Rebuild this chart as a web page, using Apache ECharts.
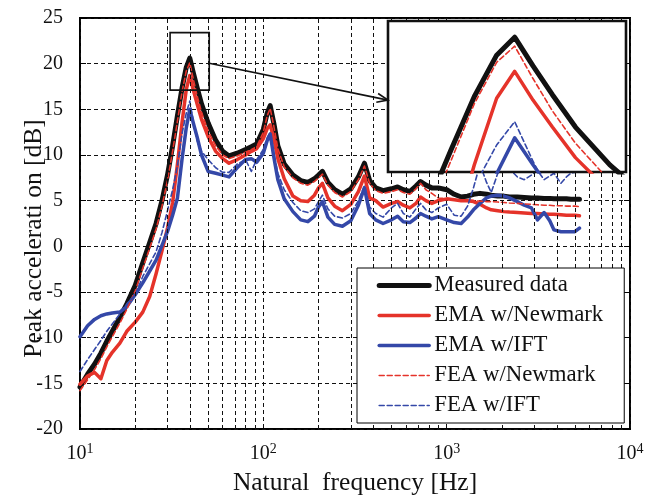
<!DOCTYPE html>
<html>
<head>
<meta charset="utf-8">
<script src="https://cdn.jsdelivr.net/npm/echarts@6/dist/echarts.min.js"></script>
<style>html,body{margin:0;padding:0;background:#fff}#chart{width:646px;height:498px}</style>
</head>
<body>
<div id="chart"></div>
<script>
// Frequency points shared by all response curves [Hz]
const freqHz = [10, 11, 12, 13, 14, 15, 16.5, 18, 20, 22,
  24, 26, 28, 30, 32, 34, 36, 38, 39.7, 41.5,
  43.5, 46, 50, 55, 60, 65, 72, 80, 86, 92,
  100, 105, 109, 114, 120, 130, 145, 160, 175, 190,
  200, 210, 225, 245, 270, 300, 330, 356, 380, 410,
  450, 500, 540, 580, 630, 680, 720, 770, 830, 900,
  1000, 1100, 1200, 1300, 1400, 1520, 1650, 1750, 1900, 2050,
  2200, 2430, 2650, 2900, 3130, 3400, 3650, 3850, 4200, 4500,
  4760, 5000, 5300];

// Peak acceleration [dB]
const measuredData = [-15.4, -14.0, -12.9, -11.7, -10.4, -9.3, -7.8, -6.3, -4.3, -1.8,
  0.4, 2.5, 5.0, 7.8, 11.0, 14.3, 17.3, 19.6, 20.6, 19.0,
  17.4, 15.6, 13.5, 11.6, 10.4, 9.9, 10.2, 10.6, 10.9, 11.2,
  12.8, 14.6, 15.4, 13.5, 11.0, 9.0, 7.8, 7.2, 7.0, 7.4,
  7.8, 8.2, 7.0, 6.2, 5.7, 6.3, 7.6, 9.1, 7.2, 6.4,
  6.1, 6.3, 6.5, 6.2, 6.0, 6.6, 7.1, 6.7, 6.4, 6.4,
  6.2, 5.7, 5.4, 5.5, 5.7, 5.8, 5.7, 5.6, 5.5, 5.5,
  5.4, 5.4, 5.35, 5.3, 5.3, 5.25, 5.25, 5.2, 5.2, 5.2,
  5.15, 5.15, 5.15];

const emaNewmark = [-15.1, -14.2, -13.8, -14.5, -12.5, -11.6, -10.6, -9.3, -8.3, -7.2,
  -5.5, -3.0, -0.5, 2.0, 4.8, 9.0, 13.5, 17.2, 18.7, 17.1,
  15.6, 13.9, 12.0, 10.4, 9.6, 9.1, 9.5, 10.0, 10.4, 10.7,
  11.8, 12.9, 13.3, 11.8, 9.6, 7.4, 5.5, 5.0, 4.9, 5.6,
  6.4, 6.9, 5.3, 4.4, 3.9, 4.6, 6.0, 7.7, 5.3, 5.0,
  4.3, 4.7, 4.9, 4.5, 4.2, 4.7, 5.4, 5.0, 4.7, 5.0,
  5.2, 5.1, 5.0, 5.0, 4.9, 4.6, 4.2, 4.0, 3.9, 3.8,
  3.75, 3.7, 3.65, 3.6, 3.6, 3.55, 3.5, 3.5, 3.45, 3.4,
  3.4, 3.4, 3.35];

const emaIft = [-9.9, -8.7, -8.0, -7.6, -7.4, -7.3, -7.2, -6.6, -5.3, -4.0,
  -2.7, -1.5, 0.1, 1.6, 3.4, 5.3, 9.5, 13.0, 15.0, 13.5,
  12.0, 10.0, 8.2, 8.0, 7.8, 7.6, 8.6, 9.5, 9.6, 9.2,
  10.2, 11.6, 12.3, 9.8, 7.3, 5.2, 3.8, 2.9, 2.7, 3.3,
  4.3, 4.9, 3.2, 2.4, 2.2, 2.8, 4.5, 6.4, 3.6, 2.9,
  2.5, 2.9, 3.3, 2.7, 2.6, 3.1, 3.6, 3.3, 3.0, 3.25,
  2.9, 2.6, 2.5, 3.2, 4.0, 4.7, 5.3, 5.5, 5.6, 5.5,
  5.3, 4.9, 4.5, 4.2, 2.9, 3.7, 2.8, 1.8, 1.6, 1.6,
  1.6, 1.6, 2.0];

const feaNewmark = [-15.8, -14.6, -13.5, -12.3, -11.0, -9.9, -8.4, -6.9, -4.9, -2.4,
  -0.2, 1.9, 4.4, 7.2, 10.4, 13.7, 16.9, 19.2, 20.1, 18.3,
  16.5, 14.7, 12.6, 11.0, 10.0, 9.6, 9.9, 10.3, 10.6, 10.9,
  12.5, 14.3, 15.1, 13.2, 10.7, 8.7, 7.5, 6.9, 6.7, 7.1,
  7.5, 7.9, 6.7, 5.9, 5.4, 6.0, 7.3, 8.8, 6.9, 6.1,
  5.8, 6.0, 6.2, 5.9, 5.7, 6.3, 6.9, 6.2, 5.8, 5.3,
  5.2, 5.1, 5.1, 5.05, 5.0, 4.95, 4.9, 4.9, 4.85, 4.8,
  4.75, 4.7, 4.65, 4.6, 4.55, 4.5, 4.5, 4.45, 4.45, 4.4,
  4.4, 4.4, 4.35];

const feaIft = [-13.7, -12.4, -11.3, -10.3, -9.3, -8.5, -7.4, -6.3, -5.3, -3.3,
  -1.9, -0.6, 1.5, 3.9, 6.2, 8.8, 12.3, 14.6, 15.9, 13.7,
  11.6, 10.4, 9.5, 8.6, 8.1, 8.1, 9.0, 9.5, 8.2, 9.5,
  10.6, 11.9, 12.5, 10.2, 8.0, 6.2, 4.8, 3.9, 3.7, 4.1,
  4.9, 5.6, 4.1, 3.3, 3.1, 3.6, 5.0, 6.6, 4.3, 3.6,
  3.2, 4.2, 4.7, 3.6, 3.2, 4.1, 4.7, 4.0, 3.7, 4.2,
  4.6, 3.4, 3.3, 4.4, 6.4, 9.0, 7.0, 5.9, 8.0, 9.3,
  8.5, 7.6, 7.3, 7.8, 8.3, 7.3, 7.7, 8.0, 6.9, 7.6,
  8.0, 8.1, 8.2];

const seriesNames = ['Measured data', 'EMA w/Newmark', 'EMA w/IFT', 'FEA w/Newmark', 'FEA w/IFT'];
const seriesValues = [measuredData, emaNewmark, emaIft, feaNewmark, feaIft];
const yAxisTitle = 'Peak accelerati on [dB]';

// Highlighted region on the main plot and the ranges of the magnified view
const zoomBoxFreq = [31, 50.7];
const zoomBoxDb = [17.1, 23.4];
const insetFreqRange = [29.2, 52];
const insetDbRange = [13.1, 21.5];
const insetGridDb = [15, 20];
const insetGridFreq = [40];

// Minor log gridlines of the main plot
const minorFreqs = [20, 30, 40, 50, 60, 70, 80, 90,
  200, 300, 400, 500, 600, 700, 800, 900,
  2000, 3000, 4000, 5000, 6000, 7000, 8000, 9000];

const FONT = '"Liberation Serif", "Times New Roman", serif';
const RED = '#e5332a';
const BLUE = '#3448a8';
const lineStyles = [
  { color: '#111111', width: 5, type: 'solid' },
  { color: RED, width: 3.5, type: 'solid' },
  { color: BLUE, width: 3.5, type: 'solid' },
  { color: RED, width: 1.6, type: [5, 3] },
  { color: BLUE, width: 1.6, type: [5, 3] }
];
const gridDash = { color: '#111', width: 1, type: [4, 3] };

function pairs(values) {
  return freqHz.map((f, i) => [f, values[i]]);
}

function curveSeries(idx, xAxisIndex, yAxisIndex, z) {
  const st = lineStyles[idx];
  return {
    name: seriesNames[idx],
    type: 'line',
    xAxisIndex: xAxisIndex,
    yAxisIndex: yAxisIndex,
    data: pairs(seriesValues[idx]),
    symbol: 'none',
    showSymbol: false,
    clip: true,
    z: z,
    color: st.color,
    lineStyle: { color: st.color, width: st.width, type: st.type, cap: 'round', join: 'round' },
    emphasis: { disabled: true },
    animation: false
  };
}

const series = [];
// main plot minor gridlines
series.push({
  type: 'line', xAxisIndex: 0, yAxisIndex: 0, data: [], z: 1, silent: true,
  markLine: {
    silent: true, symbol: ['none', 'none'], animation: false,
    label: { show: false },
    lineStyle: gridDash,
    data: minorFreqs.map(f => ({ xAxis: f }))
  }
});
for (let i = 0; i < 5; i++) series.push(curveSeries(i, 0, 0, 2));
// magnified view gridlines
series.push({
  type: 'line', xAxisIndex: 1, yAxisIndex: 1, data: [], z: 11, silent: true,
  markLine: {
    silent: true, symbol: ['none', 'none'], animation: false,
    label: { show: false },
    lineStyle: gridDash,
    data: insetGridDb.map(v => ({ yAxis: v })).concat(insetGridFreq.map(f => ({ xAxis: f })))
  }
});
for (let i = 0; i < 5; i++) series.push(curveSeries(i, 1, 1, 12));

const superscriptLabel = v => {
  const e = Math.round(Math.log10(v));
  return '{b|10}{s|' + e + '}';
};

const chart = echarts.init(document.getElementById('chart'), null, { renderer: 'canvas' });

chart.setOption({
  backgroundColor: '#fff',
  animation: false,
  textStyle: { fontFamily: FONT },
  grid: [
    { left: 80, top: 18, right: 16, bottom: 69, show: true, borderColor: '#000', borderWidth: 2,
      backgroundColor: 'transparent', containLabel: false, outerBoundsMode: 'none' },
    { left: 388, top: 21, width: 238, height: 151, show: true, borderColor: '#111', borderWidth: 2.6,
      backgroundColor: '#fff', z: 10, containLabel: false, outerBoundsMode: 'none' }
  ],
  xAxis: [
    {
      type: 'log', logBase: 10, min: 10, max: 10000, gridIndex: 0,
      name: 'Natural  frequency [Hz]', nameLocation: 'middle', nameGap: 41, nameMoveOverlap: false,
      nameTextStyle: { fontFamily: FONT, fontSize: 25.5, color: '#111' },
      axisLine: { show: false },
      axisTick: { show: true, inside: true, length: 6, lineStyle: { color: '#000' } },
      splitLine: { show: true, lineStyle: gridDash },
      axisLabel: {
        margin: 13, formatter: superscriptLabel,
        rich: {
          b: { fontFamily: FONT, fontSize: 20, color: '#111', lineHeight: 24 },
          s: { fontFamily: FONT, fontSize: 14, color: '#111', lineHeight: 14, verticalAlign: 'top' }
        }
      }
    },
    { type: 'log', logBase: 10, min: insetFreqRange[0], max: insetFreqRange[1], gridIndex: 1,
      show: false, splitLine: { show: false } },
    { type: 'log', logBase: 10, min: 10, max: 10000, gridIndex: 0, position: 'top',
      axisLine: { show: false }, axisLabel: { show: false }, splitLine: { show: false },
      axisTick: { show: true, inside: true, length: 6, lineStyle: { color: '#000' } } }
  ],
  yAxis: [
    {
      type: 'value', min: -20, max: 25, interval: 5, gridIndex: 0,
      axisLine: { show: false },
      axisTick: { show: true, inside: true, length: 6, lineStyle: { color: '#000' } },
      splitLine: { show: true, lineStyle: gridDash },
      axisLabel: { fontFamily: FONT, fontSize: 20, color: '#111', margin: 17 }
    },
    { type: 'value', min: insetDbRange[0], max: insetDbRange[1], gridIndex: 1,
      show: false, splitLine: { show: false } },
    { type: 'value', min: -20, max: 25, interval: 5, gridIndex: 0, position: 'right',
      axisLine: { show: false }, axisLabel: { show: false }, splitLine: { show: false },
      axisTick: { show: true, inside: true, length: 6, lineStyle: { color: '#000' } } }
  ],
  legend: {
    orient: 'vertical', left: 357, top: 268,
    itemWidth: 50, itemHeight: 14, itemGap: 7,
    padding: [6, 21, 6, 19.7],
    backgroundColor: '#fff', borderColor: '#000', borderWidth: 1,
    itemStyle: { opacity: 0, borderWidth: 0 },
    lineStyle: { width: 'inherit', type: 'inherit' },
    textStyle: { fontFamily: FONT, fontSize: 22.8, color: '#111', lineHeight: 23 },
    data: seriesNames, z: 20, selectedMode: false
  },
  series: series
});

// Box marking the magnified region and the arrow pointing to the magnified view
const boxA = chart.convertToPixel({ gridIndex: 0 }, [zoomBoxFreq[0], zoomBoxDb[1]]);
const boxB = chart.convertToPixel({ gridIndex: 0 }, [zoomBoxFreq[1], zoomBoxDb[0]]);
const arrowStart = chart.convertToPixel({ gridIndex: 0 }, [zoomBoxFreq[1], 20.04]);
const arrowEnd = chart.convertToPixel({ gridIndex: 1 }, [insetFreqRange[0], 17.1]);
const dx = arrowEnd[0] - arrowStart[0], dy = arrowEnd[1] - arrowStart[1];
const len = Math.sqrt(dx * dx + dy * dy);
const ux = dx / len, uy = dy / len;
const headLen = 11, headHalf = 4.5;
const hb = [arrowEnd[0] - ux * headLen, arrowEnd[1] - uy * headLen];
const head1 = [hb[0] - uy * headHalf, hb[1] + ux * headHalf];
const head2 = [hb[0] + uy * headHalf, hb[1] - ux * headHalf];

chart.setOption({
  graphic: [
    { type: 'rect', z: 30, silent: true,
      shape: { x: boxA[0], y: boxA[1], width: boxB[0] - boxA[0], height: boxB[1] - boxA[1] },
      style: { fill: 'none', stroke: '#111', lineWidth: 1.6 } },
    { type: 'line', z: 30, silent: true,
      shape: { x1: arrowStart[0], y1: arrowStart[1], x2: arrowEnd[0], y2: arrowEnd[1] },
      style: { stroke: '#111', lineWidth: 1.6 } },
    { type: 'polyline', z: 30, silent: true,
      shape: { points: [head1, arrowEnd, head2] },
      style: { stroke: '#111', lineWidth: 1.6, fill: 'none' } },
    // vertical axis title
    { type: 'text', z: 30, silent: true, x: 34.5, y: 238.5, rotation: Math.PI / 2,
      style: { text: yAxisTitle, fontFamily: FONT, fontSize: 25.5, fill: '#111',
        align: 'center', verticalAlign: 'middle' } }
  ]
});
</script>
</body>
</html>
